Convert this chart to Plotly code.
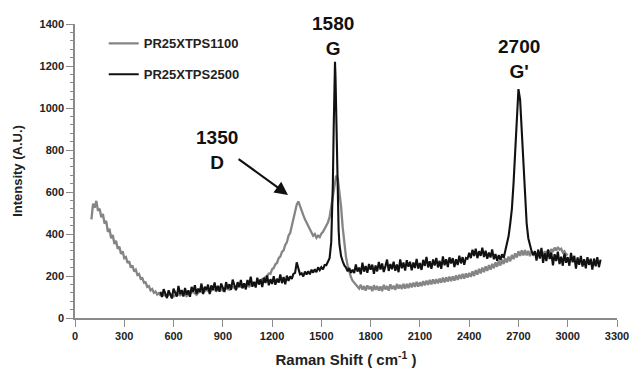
import plotly.graph_objects as go

# ---- data ----
gray_name = "PR25XTPS1100"
gray_x = ([100,110,120,130,140,150,160,170,180,190,200,210,220,230,240,250,260,270,280,290,
           300,310,320,330,340,350,360,370,380,390,400,410,420,430,440,450,460,470,480,490,500,510,520]
          + [540,560,580,600,620,640,660,680,700,720,740,760,780,800,820,840,860,880,900,920,
             940,960,980,1000,1020,1040,1060,1080,1100]
          + list(range(1110, 3001, 10)))
gray_y = [470,545,525,558,510,520,480,495,450,462,410,425,380,395,352,368,330,340,305,318,
          285,290,262,270,240,250,222,230,205,210,186,190,168,170,148,152,132,138,120,126,112,118,108,
          110,104,115,102,116,108,120,104,118,124,110,130,120,134,124,138,128,144,130,140,
          135,148,140,152,146,158,150,165,165,
          # 1110-1700
          172,168,180,185,178,196,200,212,210,232,238,256,262,285,292,315,322,348,360,392,
          405,440,470,505,540,555,530,515,490,470,455,440,420,408,392,400,382,392,385,402,
          410,425,440,455,480,530,600,650,678,665,610,530,430,345,290,250,215,195,178,168,
          # 1710-2780
          162,150,140,158,135,152,130,155,138,150,128,156,134,152,130,150,128,158,136,152,
          130,160,138,154,134,162,140,158,138,163,140,162,142,166,146,168,148,172,150,170,
          152,176,155,178,158,181,160,184,163,185,165,188,168,192,170,194,173,197,176,198,
          178,203,182,206,186,210,188,212,192,215,196,222,200,228,206,234,212,240,218,246,
          224,252,230,258,237,265,244,272,250,278,257,285,264,292,270,300,280,308,288,318,
          296,322,298,324,298,320,295,316,
          # 2790-3000
          302,312,298,310,300,315,302,318,305,322,310,328,315,335,322,338,325,330,312,318,300,305]

black_name = "PR25XTPS2500"
black_x = (list(range(520, 1551, 10))
           + [1560,1565,1570,1575,1580,1583,1586,1590,1595,1600,1605,1610]
           + list(range(1620, 3201, 10)))
black_y = [125,100,137,110,95,132,114,93,140,119,102,153,114,133,102,143,111,132,101,148,
           125,156,115,140,123,164,114,149,134,159,114,155,134,169,128,153,125,164,145,124,
           171,140,161,134,183,150,132,171,148,181,142,165,136,181,156,197,149,172,145,192,
           159,184,147,192,167,202,156,185,162,199,158,187,168,207,166,195,161,202,177,
           # 1310-1550
           198,186,210,215,265,235,208,213,198,221,207,223,208,230,216,232,218,241,228,242,
           232,252,252,268,285,
           # 1560-1610
           360,460,640,900,1150,1220,1150,950,720,540,420,350,
           # 1620-1690
           295,270,250,240,222,238,215,230,
           # 1700-2380
           214,255,221,240,208,263,221,248,215,257,230,254,211,250,222,267,231,260,219,247,
           278,224,257,232,268,225,255,218,279,237,264,226,275,244,268,227,264,238,281,235,
           262,229,277,248,291,241,270,234,279,250,286,241,272,234,293,251,280,243,289,260,
           285,243,280,252,297,260,290,253,286,
           # 2390-2790
           282,310,285,325,295,330,285,318,296,335,290,320,282,312,288,326,280,305,272,300,
           276,304,286,318,345,390,450,520,640,800,980,1090,1040,900,720,560,450,380,340,318,300,
           # 2800-3200
           318,273,326,283,334,263,308,271,326,281,312,251,304,271,316,257,292,249,308,263,
           290,249,310,265,296,235,288,253,296,245,280,237,290,253,282,231,283,246,290,242,278]

peak_labels = [("1350<br>D", 865, 802), ("1580<br>G", 1571, 1343), ("2700<br>G'", 2703, 1231)]
arrow_head = (1297, 586)
arrow_tail = (987, 762)

x_ticks = list(range(0, 3301, 300))
y_ticks = list(range(0, 1401, 200))

FONT = "Liberation Sans, Arial, sans-serif"

fig = go.Figure()
fig.add_trace(go.Scatter(x=gray_x, y=gray_y, mode="lines", name=gray_name,
                         line=dict(color="#858585", width=2.3), legendgroup="a"))
fig.add_trace(go.Scatter(x=black_x, y=black_y, mode="lines", name=black_name,
                         line=dict(color="#111111", width=2.1), legendgroup="b"))

for txt, xx, yy in peak_labels:
    fig.add_annotation(x=xx, y=yy, xref="x", yref="y", text="<b>%s</b>" % txt,
                       showarrow=False, font=dict(family=FONT, size=19, color="#111"),
                       align="center")

fig.add_annotation(x=arrow_head[0], y=arrow_head[1], ax=arrow_tail[0], ay=arrow_tail[1],
                   xref="x", yref="y", axref="x", ayref="y", text="", showarrow=True,
                   arrowhead=2, arrowsize=1.2, arrowwidth=2.2, arrowcolor="#111")

axis_common = dict(showgrid=False, zeroline=False, showline=True, linecolor="#8a8a8a",
                   linewidth=1.5, ticks="outside", ticklen=7, tickcolor="#8a8a8a",
                   tickwidth=1.2, automargin=False,
                   tickfont=dict(family=FONT, size=11, color="#222"))

fig.update_xaxes(range=[0, 3300], tickvals=x_ticks,
                 ticktext=["<b>%d</b>" % v for v in x_ticks],
                 title=dict(text="<b>Raman Shift ( cm<sup>-1</sup> )</b>",
                            font=dict(family=FONT, size=15, color="#222"), standoff=14),
                 **axis_common)
fig.update_yaxes(range=[0, 1400], tickvals=y_ticks,
                 ticktext=["<b>%d</b>" % v for v in y_ticks],
                 minor=dict(dtick=40, ticks="outside", ticklen=3, tickcolor="#8a8a8a", tickwidth=1),
                 title=dict(text="<b>Intensity (A.U.)</b>",
                            font=dict(family=FONT, size=13, color="#222"), standoff=14),
                 **axis_common)

fig.update_layout(
    width=634, height=369,
    margin=dict(l=75, r=17, t=24, b=51),
    plot_bgcolor="white", paper_bgcolor="white",
    showlegend=True,
    legend=dict(x=0.053, y=0.985, xanchor="left", yanchor="top",
                bgcolor="rgba(0,0,0,0)", traceorder="grouped", tracegroupgap=11,
                itemwidth=30,
                font=dict(family=FONT, size=13, color="#222")),
)
fig.for_each_trace(lambda t: t.update(name="<b>%s</b>" % t.name))

fig.write_html("out.html")
